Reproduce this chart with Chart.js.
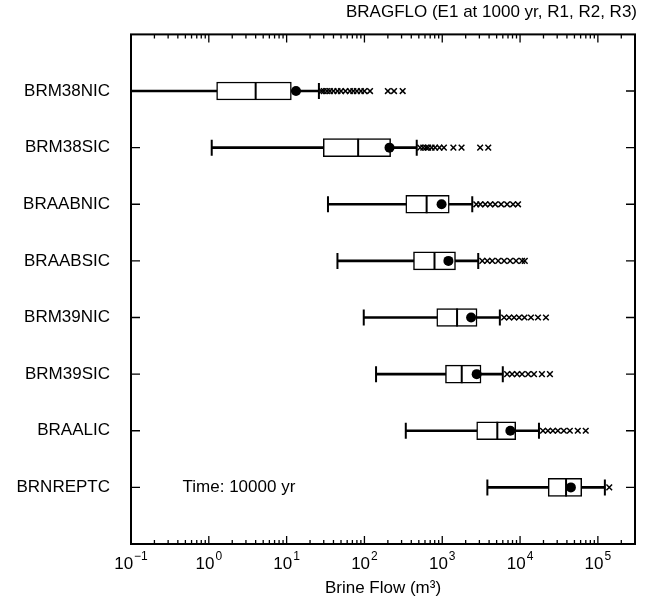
<!DOCTYPE html>
<html>
<head>
<meta charset="utf-8">
<script src="https://cdn.jsdelivr.net/npm/chart.js@4.4.1/dist/chart.umd.min.js"></script>
<style>
  html, body { margin: 0; padding: 0; background: #fff; }
  #wrap { width: 646px; height: 606px; }
</style>
</head>
<body>
<div id="wrap"><canvas id="chart" width="646" height="606"></canvas></div>
<script>
const categories = ["BRM38NIC", "BRM38SIC", "BRAABNIC", "BRAABSIC", "BRM39NIC", "BRM39SIC", "BRAALIC", "BRNREPTC"];
const lowWhisker = [0.05, 1.09, 34, 45, 98, 141, 340, 3800];
const q1 = [1.26, 29.6, 340, 427, 850, 1100, 2770, 23000];
const medians = [4.0, 83, 630, 795, 1550, 1780, 5100, 39000];
const q3 = [11.5, 217, 1230, 1480, 2800, 3150, 8800, 62000];
const means = [13.2, 210, 980, 1200, 2350, 2770, 7500, 45000];
const highWhisker = [26, 470, 2430, 2900, 5500, 6000, 17500, 123000];
const outliers = [
  [28, 30, 33, 36, 40, 45, 50, 57, 65, 72, 80, 90, 100, 118, 200, 240, 310],
  [520, 570, 620, 660, 730, 810, 920, 1050, 1390, 1770, 3070, 3900],
  [2740, 3080, 3570, 4130, 4790, 5710, 6820, 8130, 9420],
  [3270, 3790, 4390, 5230, 6240, 7450, 8890, 10600, 11500],
  [6240, 7230, 8380, 9710, 11400, 13800, 17000, 21500],
  [6820, 7900, 9160, 10600, 12700, 15100, 19100, 24200],
  [19700, 22800, 26400, 30600, 36500, 43600, 55200, 69800],
  [140000]
];
const xTickExponents = [-1, 0, 1, 2, 3, 4, 5];

const FONT = "'Liberation Sans', Arial, Helvetica, sans-serif";

const rows = categories.map((c, i) => i);
const pts = (vals) => vals.map((v, i) => ({ x: v, y: i }));

// frame, inward ticks, x labels with exponents, and the time note
const frame = {
  id: 'frame',
  afterDraw(chart) {
    const { ctx, chartArea: a, scales: { x, y } } = chart;
    ctx.save();
    ctx.strokeStyle = '#000';
    ctx.lineWidth = 2;
    ctx.strokeRect(a.left, a.top, a.right - a.left, a.bottom - a.top);

    ctx.lineWidth = 1.3;
    ctx.beginPath();
    for (let e = -1; e <= 5; e++) {
      for (let m = 1; m <= 9; m++) {
        const v = m * Math.pow(10, e);
        if (v < x.min || v > x.max) continue;
        const px = x.getPixelForValue(v);
        const len = m === 1 ? 8 : 4;
        ctx.moveTo(px, a.bottom); ctx.lineTo(px, a.bottom - len);
        ctx.moveTo(px, a.top); ctx.lineTo(px, a.top + len);
      }
    }
    rows.forEach(i => {
      const py = y.getPixelForValue(i);
      ctx.moveTo(a.left, py); ctx.lineTo(a.left + 9, py);
      ctx.moveTo(a.right, py); ctx.lineTo(a.right - 9, py);
    });
    ctx.stroke();

    ctx.fillStyle = '#000';
    ctx.textBaseline = 'alphabetic';
    ctx.textAlign = 'left';
    xTickExponents.forEach(e => {
      const px = x.getPixelForValue(Math.pow(10, e));
      const exp = e < 0 ? '\u2212' + (-e) : String(e);
      ctx.font = '17px ' + FONT;
      const wBase = ctx.measureText('10').width;
      ctx.font = '12px ' + FONT;
      const wExp = ctx.measureText(exp).width;
      const start = px - (wBase + wExp + 1) / 2;
      ctx.font = '17px ' + FONT;
      ctx.fillText('10', start, a.bottom + 25);
      ctx.font = '12px ' + FONT;
      ctx.fillText(exp, start + wBase + 1, a.bottom + 16);
    });

    ctx.font = '17px ' + FONT;
    ctx.textBaseline = 'middle';
    ctx.fillText('Time: 10000 yr', x.getPixelForValue(0.46), y.getPixelForValue(7));
    ctx.restore();
  }
};

new Chart(document.getElementById('chart'), {
  type: 'bar',
  data: {
    datasets: [
      {
        label: 'whiskers',
        indexAxis: 'y',
        data: rows.map(i => ({ x: [lowWhisker[i], highWhisker[i]], y: i })),
        backgroundColor: '#000',
        barThickness: 2,
        grouped: false,
        order: 6
      },
      {
        label: 'boxes',
        indexAxis: 'y',
        data: rows.map(i => ({ x: [q1[i], q3[i]], y: i })),
        backgroundColor: '#fff',
        borderColor: '#000',
        borderWidth: 1.5,
        borderSkipped: false,
        barThickness: 18,
        grouped: false,
        order: 5
      },
      {
        label: 'medians',
        type: 'scatter',
        data: pts(medians),
        pointStyle: 'line',
        rotation: 90,
        radius: 9,
        borderColor: '#000',
        borderWidth: 2,
        order: 4
      },
      {
        label: 'caps',
        type: 'scatter',
        data: pts(lowWhisker).concat(pts(highWhisker)),
        pointStyle: 'line',
        rotation: 90,
        radius: 8,
        borderColor: '#000',
        borderWidth: 2,
        order: 4
      },
      {
        label: 'outliers',
        type: 'scatter',
        data: outliers.flatMap((list, i) => list.map(v => ({ x: v, y: i }))),
        pointStyle: 'crossRot',
        radius: 4,
        borderColor: '#000',
        borderWidth: 1.5,
        order: 3
      },
      {
        label: 'means',
        type: 'scatter',
        data: pts(means),
        pointStyle: 'circle',
        radius: 5,
        backgroundColor: '#000',
        borderColor: '#000',
        borderWidth: 0,
        order: 2
      }
    ]
  },
  options: {
    responsive: false,
    animation: false,
    layout: { padding: { left: 0, right: 9, top: 0, bottom: 0 } },
    plugins: {
      legend: { display: false },
      tooltip: { enabled: false },
      title: {
        display: true,
        text: 'BRAGFLO (E1 at 1000 yr, R1, R2, R3)',
        align: 'end',
        color: '#000',
        font: { family: FONT, size: 17, weight: 'normal' },
        padding: { top: 2, bottom: 12 }
      }
    },
    scales: {
      x: {
        type: 'logarithmic',
        min: 0.1,
        max: 300000,
        grid: { display: false },
        border: { display: false },
        ticks: { display: false },
        title: {
          display: true,
          text: 'Brine Flow (m\u00b3)',
          color: '#000',
          font: { family: FONT, size: 17 },
          padding: { top: 0, bottom: 7 }
        },
        afterFit: (scale) => { scale.height = 62; }
      },
      y: {
        type: 'linear',
        min: -1,
        max: 8,
        reverse: true,
        offset: false,
        grid: { display: false },
        border: { display: false },
        ticks: {
          stepSize: 1,
          padding: 13,
          color: '#000',
          font: { family: FONT, size: 17 },
          callback: (v) => categories[v] || ''
        },
        afterFit: (scale) => { scale.width = 131; }
      }
    }
  },
  plugins: [frame]
});
</script>
</body>
</html>
